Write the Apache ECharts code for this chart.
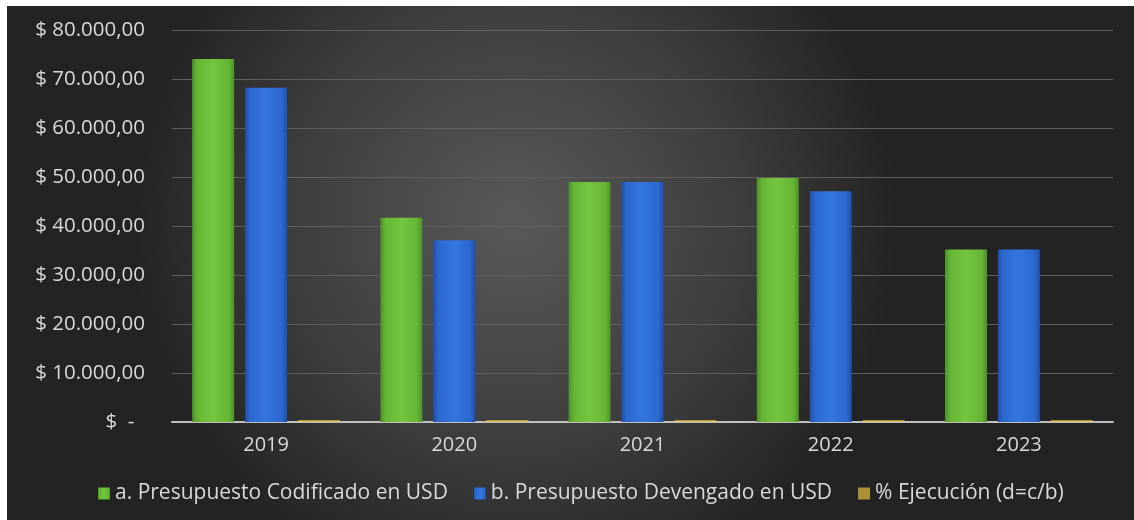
<!DOCTYPE html>
<html>
<head>
<meta charset="utf-8">
<script src="https://cdn.jsdelivr.net/npm/echarts@6/dist/echarts.min.js"></script>
<style>
html,body{margin:0;padding:0;background:#ffffff;}
#chart{position:absolute;left:7px;top:6px;width:1127px;height:514px;}
</style>
</head>
<body>
<div id="chart"></div>
<script>
const categories = ['2019', '2020', '2021', '2022', '2023'];
const codificado = [74100, 41700, 49000, 49800, 35200];
const devengado = [68200, 37100, 49000, 47100, 35200];
const ejecucion = [0.92, 0.89, 1.00, 0.95, 1.00];
const seriesNames = ['a. Presupuesto Codificado en USD', 'b. Presupuesto Devengado en USD', '% Ejecución (d=c/b)'];
const yTickLabels = ['$  -  ', '$ 10.000,00', '$ 20.000,00', '$ 30.000,00', '$ 40.000,00', '$ 50.000,00', '$ 60.000,00', '$ 70.000,00', '$ 80.000,00'];

const FONT = 'Open Sans';
const TXT = '#d9d9d9';

function barGrad(dark, mid, light) {
  return new echarts.graphic.LinearGradient(0, 0, 1, 0, [
    {offset: 0, color: dark},
    {offset: 0.12, color: mid},
    {offset: 0.5, color: light},
    {offset: 0.88, color: mid},
    {offset: 1, color: dark}
  ]);
}

const chart = echarts.init(document.getElementById('chart'));
chart.setOption({
  backgroundColor: {
    type: 'radial', x: 0.45, y: 0.42, r: 0.75,
    colorStops: [
      {offset: 0, color: '#595959'},
      {offset: 0.6, color: '#3c3c3c'},
      {offset: 1, color: '#232323'}
    ]
  },
  textStyle: {fontFamily: FONT},
  grid: {left: 165, right: 21, top: 24, bottom: 98},
  legend: {
    left: 86, top: 472,
    itemWidth: 12, itemHeight: 12, itemGap: 26,
    icon: 'rect',
    textStyle: {color: TXT, fontSize: 21, fontFamily: FONT},
    data: seriesNames
  },
  xAxis: {
    type: 'category',
    data: categories,
    axisLine: {lineStyle: {color: '#bfbfbf', width: 2}},
    axisTick: {show: false},
    axisLabel: {color: TXT, fontSize: 20, margin: 13, fontFamily: FONT}
  },
  yAxis: {
    type: 'value',
    min: 0, max: 80000, interval: 10000,
    axisLine: {show: false},
    axisTick: {show: false},
    splitLine: {lineStyle: {color: '#5e5e5e', width: 1}},
    axisLabel: {
      color: TXT, fontSize: 20.5, margin: 27, fontFamily: FONT,
      formatter: function (v) { return yTickLabels[Math.round(v / 10000)]; }
    }
  },
  series: [
    {
      name: seriesNames[0], type: 'bar', data: codificado,
      barWidth: 42, barGap: '26%',
      itemStyle: {color: barGrad('#4f8f2a', '#64b534', '#74c640')},
      emphasis: {disabled: true}
    },
    {
      name: seriesNames[1], type: 'bar', data: devengado,
      barWidth: 42, barGap: '26%',
      itemStyle: {color: barGrad('#1f4fa8', '#2b67cf', '#3576e0')},
      emphasis: {disabled: true}
    },
    {
      name: seriesNames[2], type: 'bar', data: ejecucion,
      barWidth: 42, barGap: '26%', barMinHeight: 2,
      itemStyle: {color: '#e8c040', opacity: 0.7},
      emphasis: {disabled: true},
      z: 3
    }
  ]
});
</script>
</body>
</html>
